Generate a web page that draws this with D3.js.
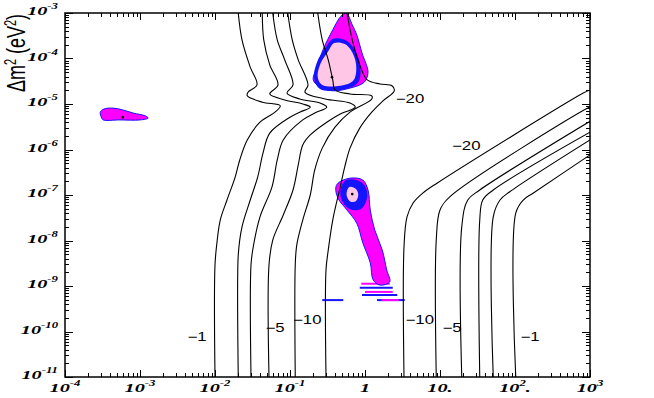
<!DOCTYPE html>
<html>
<head>
<meta charset="utf-8">
<script src="https://cdn.jsdelivr.net/npm/d3@7"></script>
<style>
  body { margin: 0; background: #fff; }
</style>
</head>
<body>
<svg id="chart" width="654" height="398"></svg>
<script>
// every point is [log10 tan^2(theta), log10 dm^2]

// iso-contours, left family (bottom, from outside in)
const cLeft1 = [[-1.69,-3.00],[-1.64,-3.59],[-1.53,-4.19],[-1.44,-4.58],[-1.56,-4.74],[-1.57,-4.82],[-1.37,-4.96],[-1.13,-5.04],[-1.20,-5.18],[-1.40,-5.40],[-1.57,-5.79],[-1.67,-6.23],[-1.73,-6.60],[-1.84,-7.11],[-1.93,-7.55],[-1.97,-7.99],[-2.00,-8.54],[-2.00,-11]];
const cLeft2 = [[-1.37,-3.00],[-1.35,-3.59],[-1.27,-4.14],[-1.16,-4.58],[-1.27,-4.78],[-1.07,-4.91],[-0.83,-5.00],[-0.73,-5.07],[-0.87,-5.18],[-1.00,-5.29],[-1.27,-5.64],[-1.36,-6.08],[-1.43,-6.60],[-1.53,-7.11],[-1.64,-7.70],[-1.69,-8.32],[-1.69,-11]];
const cLeft3 = [[-1.23,-3.00],[-1.17,-3.59],[-1.07,-4.03],[-0.96,-4.58],[-1.04,-4.76],[-0.87,-4.89],[-0.60,-4.98],[-0.51,-5.07],[-0.67,-5.20],[-0.83,-5.35],[-1.09,-5.79],[-1.17,-6.23],[-1.24,-6.82],[-1.40,-7.48],[-1.49,-8.14],[-1.52,-8.54],[-1.52,-11]];
const cLeft4 = [[-1.03,-3.00],[-0.97,-3.59],[-0.89,-4.03],[-0.76,-4.58],[-0.80,-4.74],[-0.53,-4.89],[-0.20,-4.98],[-0.13,-5.07],[-0.33,-5.22],[-0.51,-5.40],[-0.73,-5.68],[-0.83,-5.90],[-0.89,-6.34],[-0.96,-6.89],[-1.09,-7.44],[-1.23,-7.99],[-1.28,-8.54],[-1.28,-11]];
const cLeft5 = [[-0.63,-3.00],[-0.57,-3.59],[-0.49,-4.03],[-0.43,-4.47],[-0.40,-4.69],[-0.20,-4.78],[0.09,-4.82],[0.09,-4.89],[-0.20,-5.18],[-0.40,-5.51],[-0.57,-5.97],[-0.67,-6.45],[-0.73,-7.00],[-0.83,-7.55],[-0.91,-8.10],[-0.93,-8.54],[-0.93,-11]];
const cLeft6 = [[-0.24,-3.00],[-0.17,-3.59],[-0.07,-4.14],[0.03,-4.47],[0.20,-4.56],[0.36,-4.60],[0.39,-4.71],[0.24,-4.93],[0.09,-5.18],[-0.07,-5.53],[-0.20,-5.97],[-0.27,-6.38],[-0.33,-6.82],[-0.43,-7.55],[-0.49,-8.21],[-0.52,-8.65],[-0.52,-11]];

// iso-contours, right family (from inside out)
const cRight1 = [[0.52,-11],[0.52,-8.14],[0.56,-7.48],[0.64,-7.18],[0.77,-6.96],[0.96,-6.74],[2.91,-4.76],[3.0,-4.69]];
const cRight2 = [[0.95,-11],[0.95,-7.99],[1.00,-7.33],[1.13,-7.04],[2.97,-5.09],[3.0,-5.07]];
const cRight3 = [[1.29,-11],[1.29,-7.70],[1.37,-7.11],[1.53,-6.89],[3.0,-5.38]];
const cRight4 = [[1.53,-11],[1.53,-7.55],[1.57,-7.11],[1.71,-6.89],[3.0,-5.62]];
const cRight5 = [[1.71,-11],[1.71,-7.48],[1.80,-7.11],[1.93,-6.93],[3.0,-5.79]];
const cRight6 = [[2.01,-11],[2.01,-7.40],[2.11,-7.11],[2.24,-6.96],[3.0,-6.12]];

// contour labels: text, log10 x, log10 y
const labelText = ["\u22121", "\u22125", "\u221210", "\u221210", "\u22125", "\u22121", "\u221220", "\u221220"];
const labelX = [-2.24, -1.20, -0.77, 0.73, 1.16, 2.20, 0.60, 1.35];
const labelY = [-10.12, -9.92, -9.75, -9.75, -9.92, -10.12, -4.89, -5.92];

// allowed regions
const smaOuter = [[-3.36,-5.09],[-3.23,-5.13],[-3.09,-5.20],[-2.93,-5.26],[-2.89,-5.31],[-3.00,-5.35],[-3.27,-5.35],[-3.49,-5.35],[-3.51,-5.31],[-3.53,-5.18],[-3.48,-5.11]];
const smaBest = [-3.23, -5.29];

const lmaOuter = [[-0.25,-3.00],[-0.17,-3.26],[-0.11,-3.48],[-0.04,-3.88],[0.04,-4.30],[-0.01,-4.52],[-0.20,-4.65],[-0.43,-4.71],[-0.60,-4.63],[-0.69,-4.47],[-0.64,-4.19],[-0.56,-3.81],[-0.43,-3.37],[-0.32,-3.07]];
const lmaMid = [[-0.43,-3.57],[-0.27,-3.59],[-0.16,-3.75],[-0.07,-4.10],[-0.09,-4.52],[-0.33,-4.69],[-0.60,-4.67],[-0.68,-4.43],[-0.64,-4.08],[-0.53,-3.77]];
const lmaInner = [[-0.41,-3.66],[-0.27,-3.68],[-0.19,-3.81],[-0.12,-4.12],[-0.15,-4.47],[-0.33,-4.60],[-0.57,-4.58],[-0.63,-4.41],[-0.59,-4.10],[-0.49,-3.84]];
const lmaBest = [-0.44, -4.41];

const lowOuter = [[-0.36,-6.74],[-0.20,-6.63],[-0.03,-6.67],[0.04,-6.89],[0.07,-7.33],[0.13,-7.77],[0.23,-8.21],[0.29,-8.65],[0.33,-8.91],[0.20,-8.98],[0.11,-8.87],[0.07,-8.49],[-0.03,-8.05],[-0.11,-7.62],[-0.24,-7.33],[-0.36,-7.07],[-0.39,-6.85]];
const lowMid = [[-0.27,-6.69],[-0.11,-6.67],[0.00,-6.80],[0.03,-7.04],[-0.04,-7.29],[-0.17,-7.33],[-0.29,-7.18],[-0.33,-6.93]];
const lowInner = [[-0.20,-6.82],[-0.12,-6.87],[-0.09,-7.00],[-0.12,-7.13],[-0.19,-7.15],[-0.24,-7.04],[-0.24,-6.91]];
const lowBest = [-0.17, -6.98];
// ragged tail of the LOW region: [x0, x1, y, colour]
const lowStripes = [[-0.05,0.33,-8.95,"m"],[-0.07,0.37,-9.04,"b"],[0.00,0.37,-9.13,"m"],[-0.04,0.43,-9.20,"b"],[-0.57,-0.29,-9.31,"b"],[0.16,0.53,-9.31,"b"],[0.22,0.45,-9.31,"m"]];

// tick labels
const xTickExp = [-4, -3, -2, -1, 0, 1, 2, 3];
const xTickText = [["10","-4",""],["10","-3",""],["10","-2",""],["10","-1",""],["1","",""],["10.","",""],["10","2","."],["10","3",""]];
const yTickExp = [-3, -4, -5, -6, -7, -8, -9, -10, -11];

const magenta = "#ff00ff", blue = "#1414ff", pink = "#ffc6e6";

const svg = d3.select("#chart");
const frameL = 65, frameR = 590, frameT = 13, frameB = 377;

const x = d3.scaleLog().domain([1e-4, 1e3]).range([frameL, frameR]);
const y = d3.scaleLog().domain([1e-11, 1e-3]).range([frameB, frameT]);
const px = d => x(Math.pow(10, d[0]));
const py = d => y(Math.pow(10, d[1]));

svg.append("clipPath").attr("id", "clip")
  .append("rect").attr("x", frameL).attr("y", frameT)
  .attr("width", frameR - frameL).attr("height", frameB - frameT);

const plot = svg.append("g").attr("clip-path", "url(#clip)");

const closed = d3.line().x(px).y(py).curve(d3.curveCatmullRomClosed.alpha(0.5));
const open = d3.line().x(px).y(py).curve(d3.curveCatmullRom.alpha(0.5));

function region(pts, fill, stroke) {
  plot.append("path").attr("d", closed(pts))
    .attr("fill", fill)
    .attr("stroke", stroke || "none")
    .attr("stroke-width", 1);
}

// SMA
region(smaOuter, magenta, blue);
// LMA
region(lmaOuter, magenta, blue);
region(lmaMid, blue);
region(lmaInner, pink);
// LOW
plot.selectAll(".stripe").data(lowStripes).enter().append("line")
  .attr("x1", d => px([d[0], d[2]])).attr("x2", d => px([d[1], d[2]]))
  .attr("y1", d => py([d[0], d[2]])).attr("y2", d => py([d[1], d[2]]))
  .attr("stroke", d => d[3] == "m" ? magenta : blue)
  .attr("stroke-width", 2);
region(lowOuter, magenta, blue);
region(lowMid, blue);
region(lowInner, pink);

plot.selectAll(".best").data([smaBest, lmaBest, lowBest]).enter().append("circle")
  .attr("cx", px).attr("cy", py).attr("r", 1.3).attr("fill", "#000");

// contour lines
const contours = [cLeft1, cLeft2, cLeft3, cLeft4, cLeft5, cLeft6,
                  cRight1, cRight2, cRight3, cRight4, cRight5, cRight6];
plot.selectAll(".contour").data(contours).enter().append("path")
  .attr("d", open)
  .attr("fill", "none")
  .attr("stroke", "#000")
  .attr("stroke-width", 1.1);

labelText.forEach((t, i) => {
  svg.append("text")
    .attr("transform", `translate(${px([labelX[i], 0])},${py([0, labelY[i]]) + 4}) scale(1.4,1)`)
    .attr("text-anchor", "middle")
    .attr("font-family", "Liberation Sans, Arial, sans-serif")
    .attr("font-size", 12)
    .attr("fill", "#000")
    .text(t);
});

// ticks
const isMajor = v => Math.abs(Math.log10(v) - Math.round(Math.log10(v))) < 1e-6;
const ticks = svg.append("g").attr("stroke", "#000").attr("stroke-width", 1);
x.ticks().forEach(v => {
  const len = isMajor(v) ? 7 : 4;
  const xx = Math.round(x(v)) + 0.5;
  ticks.append("line").attr("x1", xx).attr("x2", xx).attr("y1", frameB).attr("y2", frameB - len);
  ticks.append("line").attr("x1", xx).attr("x2", xx).attr("y1", frameT).attr("y2", frameT + len);
});
y.ticks().forEach(v => {
  const len = isMajor(v) ? 8 : 4;
  const yy = Math.round(y(v)) + 0.5;
  ticks.append("line").attr("y1", yy).attr("y2", yy).attr("x1", frameL).attr("x2", frameL + len);
  ticks.append("line").attr("y1", yy).attr("y2", yy).attr("x1", frameR).attr("x2", frameR - len);
});

svg.append("rect").attr("x", frameL).attr("y", frameT)
  .attr("width", frameR - frameL).attr("height", frameB - frameT)
  .attr("fill", "none").attr("stroke", "#000").attr("stroke-width", 1.5);

// tick labels, bold italic serif, stretched sideways like the original
function powLabel(tx, ty, parts, anchor) {
  const t = svg.append("text")
    .attr("transform", `translate(${tx},${ty}) scale(1.5,1)`)
    .attr("text-anchor", anchor)
    .attr("font-family", "Liberation Serif, Times New Roman, serif")
    .attr("font-weight", "bold").attr("font-style", "italic")
    .attr("font-size", 13.5)
    .attr("fill", "#000");
  t.append("tspan").text(parts[0]);
  if (parts[1]) t.append("tspan").attr("dy", -6).attr("font-size", 8.5).text(parts[1]);
  if (parts[2]) t.append("tspan").attr("dy", parts[1] ? 6 : 0).text(parts[2]);
}

xTickExp.forEach((e, i) => powLabel(x(Math.pow(10, e)), 392, xTickText[i], "middle"));
yTickExp.forEach(e => powLabel(58, y(Math.pow(10, e)) + 2, ["10", String(e), ""], "end"));

// axis title
const title = svg.append("text")
  .attr("transform", "translate(25,53) rotate(-90) scale(1,1.45)")
  .attr("text-anchor", "middle")
  .attr("font-family", "Liberation Sans, Arial, sans-serif")
  .attr("font-size", 18)
  .attr("fill", "#000");
title.append("tspan").text("\u0394m");
title.append("tspan").attr("dy", -6).attr("font-size", 11).text("2");
title.append("tspan").attr("dy", 6).text(" (eV");
title.append("tspan").attr("dy", -6).attr("font-size", 11).text("2");
title.append("tspan").attr("dy", 6).text(")");
</script>
</body>
</html>
